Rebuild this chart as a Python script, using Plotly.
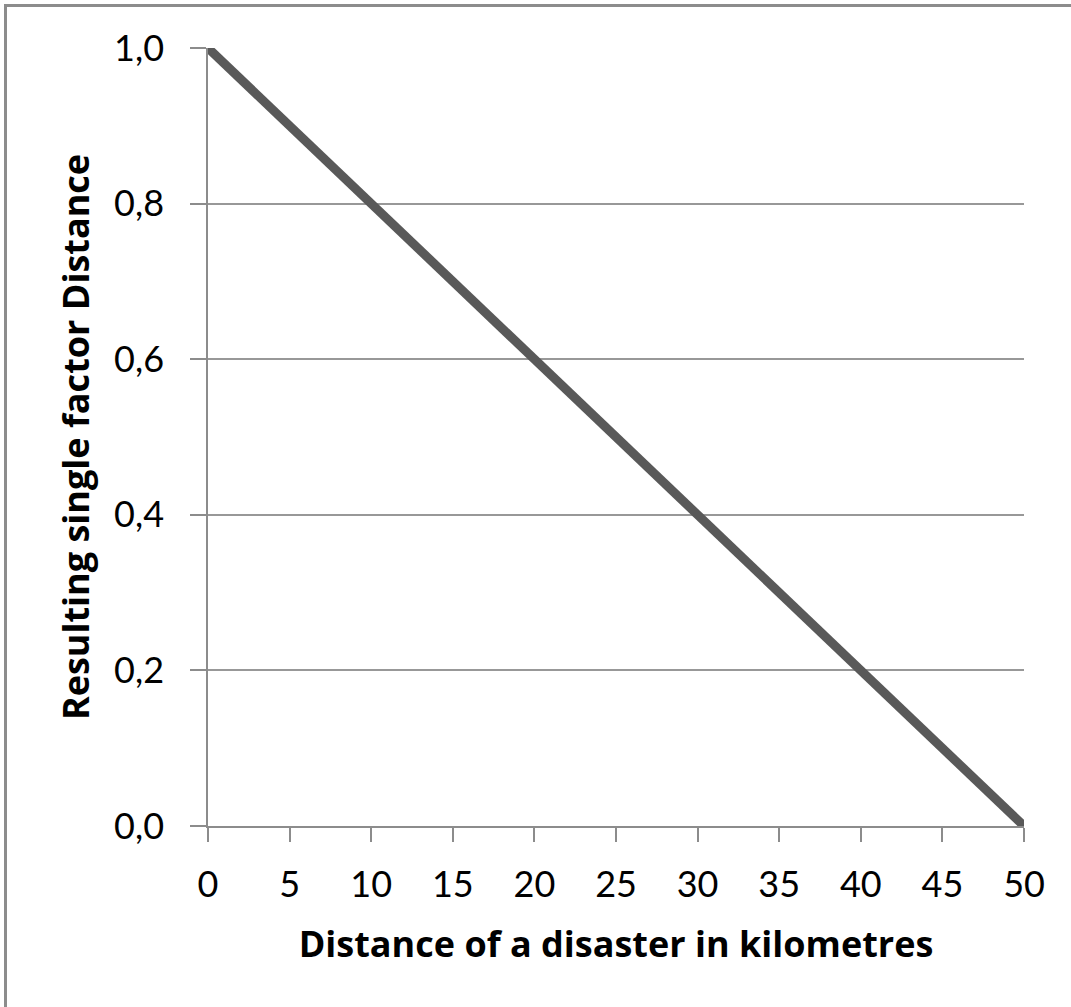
import plotly.graph_objects as go

distance_km = [0, 50]
factor = [1.0, 0.0]
x_ticks = [0, 5, 10, 15, 20, 25, 30, 35, 40, 45, 50]
y_ticks = [0.0, 0.2, 0.4, 0.6, 0.8, 1.0]
y_tick_labels = ["0,0", "0,2", "0,4", "0,6", "0,8", "1,0"]
x_title = "Distance of a disaster in kilometres"
y_title = "Resulting single factor Distance"

L, R, T, B = 208, 47, 48, 181
W, H = 1071, 1007
pw, ph = W - L - R, H - T - B

def px_x(p):
    return (p - L) / pw

def px_y(p):
    return (H - B - p) / ph

fig = go.Figure()
fig.add_trace(go.Scatter(
    x=distance_km, y=factor, mode="lines",
    line=dict(color="#595959", width=9),
    showlegend=False, hoverinfo="skip",
))

tick_font = dict(family="Lato, sans-serif", size=36, color="#000000")
title_font = dict(family="Open Sans, sans-serif", size=36, color="#000000",
                  weight="bold")

fig.update_layout(
    width=W, height=H,
    margin=dict(l=L, r=R, t=T, b=B, autoexpand=False),
    paper_bgcolor="white", plot_bgcolor="white",
    font=tick_font,
    xaxis=dict(
        range=[0, 50], tickmode="array", tickvals=x_ticks,
        ticktext=[str(v) for v in x_ticks],
        showgrid=False, zeroline=False,
        showline=True, linecolor="#8c8c8c", linewidth=1.5,
        ticks="outside", ticklen=14, tickwidth=1.5, tickcolor="#8c8c8c",
        ticklabelstandoff=12,
        title=dict(text=x_title, standoff=28, font=title_font),
        tickfont=tick_font,
    ),
    yaxis=dict(
        range=[0, 1.0], tickmode="array", tickvals=y_ticks,
        ticktext=y_tick_labels,
        showgrid=True, gridcolor="#989898", gridwidth=1.5,
        zeroline=False,
        showline=True, linecolor="#8c8c8c", linewidth=1.5,
        ticks="outside", ticklen=16, tickwidth=1.5, tickcolor="#8c8c8c",
        ticklabelstandoff=19,
        title=dict(text=y_title, standoff=14, font=title_font),
        tickfont=tick_font,
    ),
    shapes=[
        dict(type="line", xref="paper", yref="paper",
             x0=px_x(5.5), x1=px_x(W + 5), y0=px_y(5.5), y1=px_y(5.5),
             line=dict(color="#8c8c8c", width=3), layer="above"),
        dict(type="line", xref="paper", yref="paper",
             x0=px_x(5.5), x1=px_x(5.5), y0=px_y(4), y1=px_y(H + 5),
             line=dict(color="#8c8c8c", width=3), layer="above"),
    ],
)

fig.write_html(
    "out.html",
    config={"displayModeBar": False},
    post_script="document.body.style.margin='0px';document.body.style.overflow='hidden';",
)
